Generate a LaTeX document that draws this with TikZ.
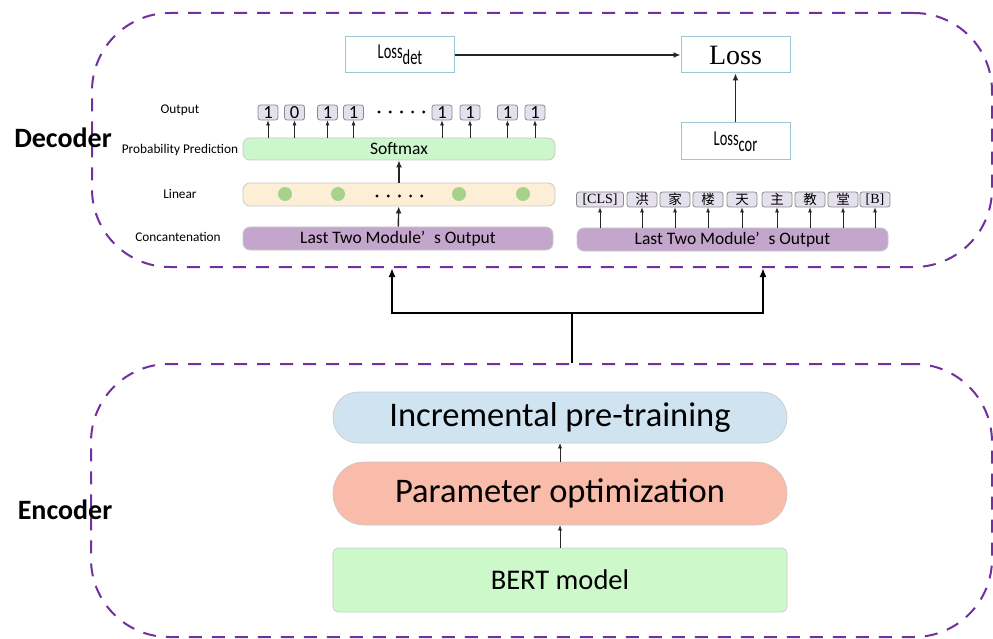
\documentclass[tikz,border=0pt]{standalone}
\usepackage{fontspec}
\usepackage{graphicx}
\newfontfamily\cfont{Carlito}
\newfontfamily\cjkfont{Noto Sans CJK SC}
\newfontfamily\tfont{Liberation Serif}
\usetikzlibrary{arrows.meta}
\newcommand\myfs[1]{\fontsize{#1pt}{#1pt}\selectfont}
\definecolor{dpurple}{HTML}{7030A0}
\definecolor{lossedge}{HTML}{9CC5D6}
\definecolor{tokfill}{HTML}{E4E0EE}
\definecolor{tokedge}{HTML}{8A8A8A}
\definecolor{softfill}{HTML}{CCF6CC}
\definecolor{linfill}{HTML}{FCEFD6}
\definecolor{catfill}{HTML}{C4A6CD}
\definecolor{dotgreen}{HTML}{A9D18E}
\definecolor{incfill}{HTML}{CFE3F0}
\definecolor{parfill}{HTML}{F9BCAA}
\definecolor{bertfill}{HTML}{CDF8CA}
\definecolor{baredge}{HTML}{C8C8C8}
\begin{document}
\begin{tikzpicture}[x=1pt,y=-1pt,
 dashbox/.style={draw=dpurple, line width=2pt, dash pattern=on 13pt off 10pt, rounded corners=78pt, inner sep=0pt},
 lossbox/.style={draw=lossedge, line width=1pt, fill=white, inner sep=0pt, minimum width=109pt, minimum height=36pt},
 tok/.style={draw=tokedge, fill=tokfill, rounded corners=2.5pt, line width=0.8pt, inner sep=0pt, minimum height=15pt, minimum width=20pt, font=\cfont\myfs{18.5}},
 ctok/.style={tok, minimum width=30pt, font=\cjkfont\myfs{13.5}},
 bar/.style={draw=baredge, rounded corners=7pt, line width=0.8pt, inner sep=0pt, minimum height=23pt, minimum width=312pt, font=\cfont\myfs{17.5}},
 sarr/.style={-{Latex[length=5pt,width=4pt]}, line width=0.7pt, draw=black!85},
 barr/.style={-{Latex[length=9pt,width=7pt]}, line width=2pt},
 midarr/.style={-{Latex[length=7pt,width=6pt]}, line width=1.4pt, draw=black!85},
 lab/.style={font=\cfont\myfs{13.3}, inner sep=0pt},
 encbox/.style={minimum width=454pt, inner sep=0pt, line width=0.6pt, draw=baredge, font=\cfont\myfs{34.5}},
 title/.style={font=\cfont\bfseries\myfs{28}, inner sep=0pt},
 dotc/.style={circle, fill=dotgreen, minimum size=14pt, inner sep=0pt},
 bdot/.style={circle, fill=black, minimum size=3.2pt, inner sep=0pt}
]
\useasboundingbox (0,0) rectangle (993,639);

% containers
\node[dashbox, minimum width=900pt, minimum height=254pt] (dec) at (542,140) {};
\node[dashbox, minimum width=901pt, minimum height=273pt] (enc) at (541.5,500.5) {};
\node[title] (dlab) at (63,138) {Decoder};
\node[title] (elab) at (65,510) {Encoder};

% losses
\node[lossbox, font=\cfont\myfs{17}] (ld) at (400,55) {\scalebox{0.85}[1.25]{Loss\raisebox{-5pt}{det}}};
\node[lossbox, font=\tfont\myfs{28}] (L) at (735.5,55) {Loss};
\node[lossbox, font=\cfont\myfs{17}, minimum height=37pt] (lc) at (735.5,141.5) {\scalebox{0.85}[1.25]{Loss\raisebox{-5pt}{cor}}};
\draw[midarr] (ld) -- (L);
\draw[midarr] (lc) -- (L);

% left labels
\node[lab] (l1) at (180,110) {Output};
\node[lab] (l2) at (180,150) {Probability Prediction};
\node[lab] (l3) at (180,194) {Linear};
\node[lab] (l4) at (178,237) {Concantenation};

% bars
\node[bar, fill=softfill, minimum height=22pt] (soft) at (399,149) {Softmax};
\node[bar, fill=linfill] (lin) at (399,194.5) {};
\node[bar, fill=catfill, minimum width=310pt] (cat) at (398,238.5) {Last Two Module’\hspace{0.5em}s Output};
\node[bar, fill=catfill, minimum width=311pt] (cat2) at (732.5,239.5) {Last Two Module’\hspace{0.5em}s Output};

% linear circles and dots
\node[dotc] (c1) at (285,194) {};
\node[dotc] (c2) at (338,194) {};
\node[dotc] (c3) at (459,194) {};
\node[dotc] (c4) at (523,194) {};
\foreach \i in {0,...,4} {
  \node[bdot] (ld\i) at (377+11.2*\i,196) {};
  \node[bdot] (od\i) at (379+11.2*\i,112) {};
}

\draw[midarr] (cat) -- (lin);
\draw[midarr] (lin) -- (soft);

% outputs
\foreach \n/\x/\t in {o1/268/1, o2/294.5/0, o3/327.5/1, o4/353.5/1, o5/442/1, o6/470/1, o7/507.5/1, o8/535/1} {
  \node[tok] (\n) at (\x,112.5) {\t};
  \draw[sarr] (soft.north -| \n) -- (\n.south);
}

% tokens
\node[tok, minimum width=47pt, font=\tfont\myfs{14}] (t1) at (600,199.5) {[CLS]};
\foreach \n/\x/\t in {t2/642/洪, t3/675/家, t4/708/楼, t5/742/天, t6/777/主, t7/810/教, t8/843/堂} {
  \node[ctok] (\n) at (\x,199.5) {\t};
}
\node[ctok, font=\tfont\myfs{14}] (t9) at (875,199.5) {[B]};
\foreach \n in {t1,t2,t3,t4,t5,t6,t7,t8,t9} {
  \draw[sarr] (cat2.north -| \n) -- (\n.south);
}

% encoder stack
\node[encbox, fill=incfill, minimum height=51pt, rounded corners=25pt] (inc) at (560,417.5) {Incremental pre-training};
\node[encbox, fill=parfill, minimum height=63pt, rounded corners=31pt] (par) at (560,493.5) {Parameter optimization};
\node[encbox, fill=bertfill, minimum height=64pt, rounded corners=5pt, font=\cfont\myfs{28.5}] (bert) at (560,580) {BERT model};
\draw[sarr, line width=0.5pt] (par) -- (inc);
\draw[sarr, line width=0.5pt] (bert) -- (par);

% encoder -> decoder
\coordinate (j) at (572,313);
\coordinate (jl) at (392,313);
\coordinate (jr) at (763,313);
\draw[line width=2pt] (enc.north -| j) -- (j);
\draw[barr] (j) -- (jl) -- (jl |- dec.south);
\draw[barr] (j) -- (jr) -- (jr |- dec.south);
\end{tikzpicture}
\end{document}
